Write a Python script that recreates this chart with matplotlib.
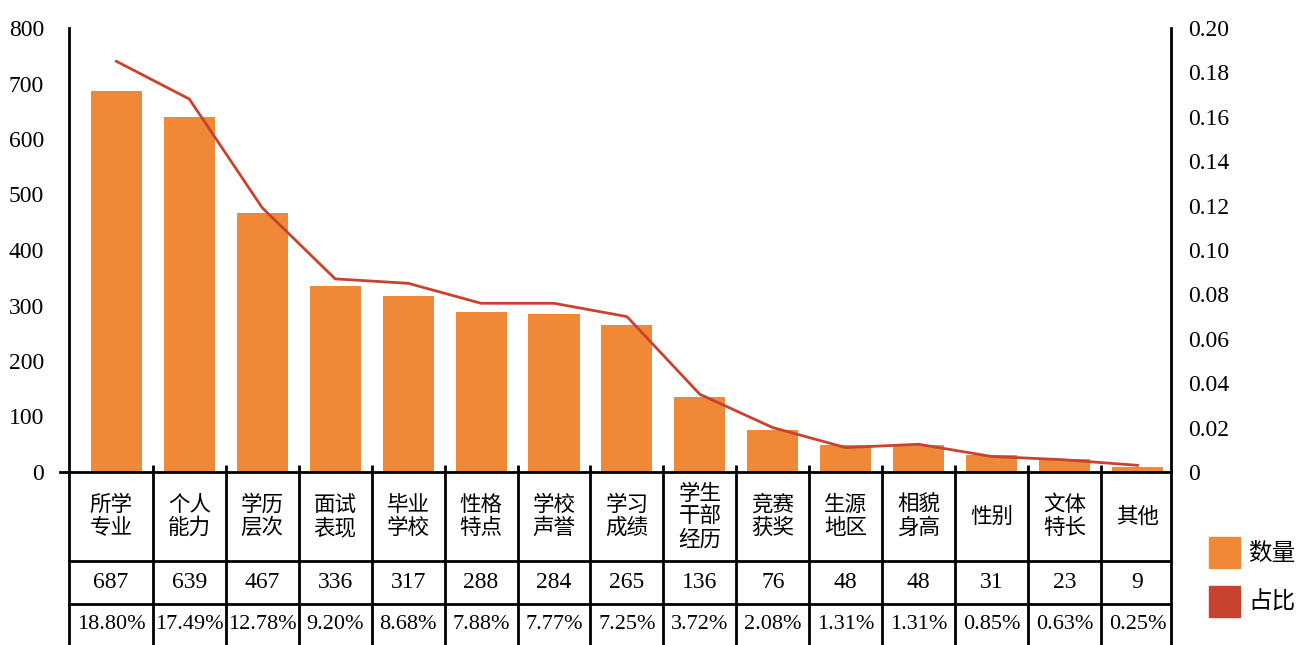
import matplotlib.pyplot as plt
import matplotlib.patches as mpatches
from matplotlib.lines import Line2D

plt.rcParams['font.family'] = ['Liberation Serif', 'Noto Sans CJK SC', 'DejaVu Sans']

categories = ["所学\n专业", "个人\n能力", "学历\n层次", "面试\n表现", "毕业\n学校", "性格\n特点",
              "学校\n声誉", "学习\n成绩", "学生\n干部\n经历", "竞赛\n获奖", "生源\n地区",
              "相貌\n身高", "性别", "文体\n特长", "其他"]
counts = [687, 639, 467, 336, 317, 288, 284, 265, 136, 76, 48, 48, 31, 23, 9]
shares = [18.80, 17.49, 12.78, 9.20, 8.68, 7.88, 7.77, 7.25, 3.72, 2.08, 1.31, 1.31, 0.85, 0.63, 0.25]
# 占比 line as drawn in the picture
line_values = [0.185, 0.168, 0.119, 0.087, 0.085, 0.076, 0.076, 0.070, 0.035, 0.020,
               0.011, 0.0125, 0.007, 0.0055, 0.003]

bar_color = '#ef8837'
line_color = '#c8432d'

W, H = 1297, 645
fig = plt.figure(figsize=(W / 100, H / 100), dpi=100)
ax = fig.add_axes([69 / W, 173 / H, (1171 - 69) / W, (472 - 28) / H])

n = len(categories)
x = list(range(n))
ax.bar(x, counts, width=0.70, color=bar_color, zorder=2)
ax.set_xlim(-0.65, n - 0.54)
ax.set_ylim(0, 800)
ax.set_yticks(range(0, 801, 100))
ax.tick_params(axis='y', length=0, pad=18, labelsize=17)
ax.set_xticks([i + 0.5 for i in range(n - 1)])
ax.set_xticklabels([])
ax.tick_params(axis='x', direction='in', length=5, width=2)

ax2 = ax.twinx()
ax2.plot(x, line_values, color=line_color, lw=2, zorder=3)
ax2.set_ylim(0, 0.20)
ax2.set_yticks([i * 0.02 for i in range(11)])
ax2.set_yticklabels(['0'] + ['%.2f' % (i * 0.02) for i in range(1, 11)])
ax2.tick_params(axis='y', length=0, pad=12, labelsize=17)

for a in (ax, ax2):
    a.spines['top'].set_visible(False)
    for s in ('left', 'right', 'bottom'):
        a.spines[s].set_linewidth(2)
ax.spines['right'].set_visible(False)
ax2.spines['left'].set_visible(False)
ax2.spines['bottom'].set_visible(False)

# extend the vertical axes down through the table
ah = 472 - 28
bot = -173 / ah
for xf in (0, 1):
    ax.add_line(Line2D([xf, xf], [0, bot], transform=ax.transAxes, color='black', lw=2, clip_on=False))
ax.add_line(Line2D([-9 / (1171 - 69), 0], [0, 0], transform=ax.transAxes, color='black', lw=2, clip_on=False))

# data table
rows = [0, -89 / ah, -132 / ah, bot]
tr = ax.get_xaxis_transform()
x0, x1 = ax.get_xlim()
for r in rows[1:3]:
    ax.add_line(Line2D([x0, x1], [r, r], transform=tr, color='black', lw=2, clip_on=False))
for i in range(1, n):
    ax.add_line(Line2D([i - 0.5, i - 0.5], [0, bot], transform=tr, color='black', lw=2, clip_on=False))
for i in range(n):
    cx = (x0 + 0.5) / 2 if i == 0 else i
    ax.text(cx, (rows[0] + rows[1]) / 2, categories[i], transform=tr, ha='center', va='center',
            fontsize=15.5, linespacing=1.05, family=['Noto Sans CJK SC'])
    ax.text(cx, (rows[1] + rows[2]) / 2, str(counts[i]), transform=tr, ha='center', va='center', fontsize=17)
    ax.text(cx, (rows[2] + rows[3]) / 2, '%.2f%%' % shares[i], transform=tr, ha='center', va='center', fontsize=16)

# legend
fig.patches.append(mpatches.Rectangle((1209 / W, (645 - 568) / H), 31 / W, 31 / H,
                                      transform=fig.transFigure, color=bar_color))
fig.patches.append(mpatches.Rectangle((1209 / W, (645 - 617) / H), 31 / W, 31 / H,
                                      transform=fig.transFigure, color=line_color))
fig.text(1248 / W, (645 - 553) / H, '数量', fontsize=17, va='center', family=['Noto Sans CJK SC'])
fig.text(1248 / W, (645 - 602) / H, '占比', fontsize=17, va='center', family=['Noto Sans CJK SC'])

fig.savefig('out.png', dpi=100)
